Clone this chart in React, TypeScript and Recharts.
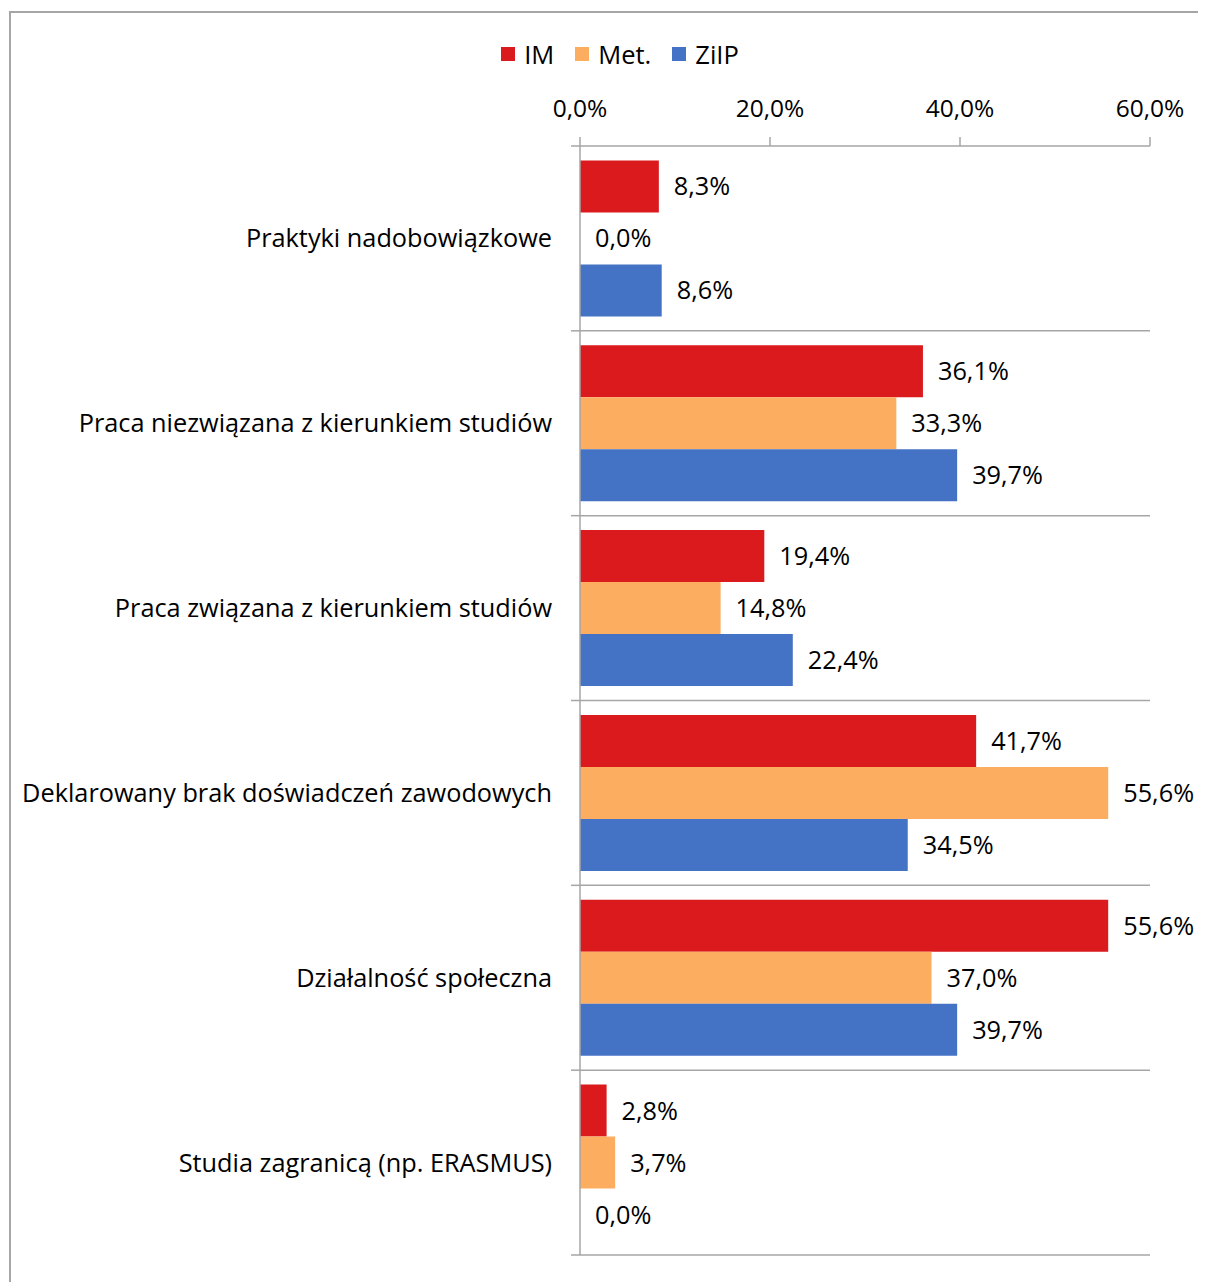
import React from 'react';
import { BarChart, Bar, XAxis, YAxis, CartesianGrid, Legend, LabelList } from 'recharts';

const categories = [
  'Praktyki nadobowiązkowe',
  'Praca niezwiązana z kierunkiem studiów',
  'Praca związana z kierunkiem studiów',
  'Deklarowany brak doświadczeń zawodowych',
  'Działalność społeczna',
  'Studia zagranicą (np. ERASMUS)',
];
const imValues = [8.3, 36.1, 19.4, 41.7, 55.6, 2.8];
const metValues = [0.0, 33.3, 14.8, 55.6, 37.0, 3.7];
const zilpValues = [8.6, 39.7, 22.4, 34.5, 39.7, 0.0];
const xTicks = [0, 20, 40, 60];

const series = [
  { key: 'IM', name: 'IM', color: '#DA1A1D' },
  { key: 'Met', name: 'Met.', color: '#FDAD60' },
  { key: 'ZiIP', name: 'ZiIP', color: '#4472C4' },
];

const data = categories.map((name, i) => ({
  name,
  IM: imValues[i],
  Met: metValues[i],
  ZiIP: zilpValues[i],
}));

const W = 1198;
const H = 1274;
const margin = { top: 98, right: 56, bottom: 27, left: 0 };
const X_AXIS_H = 40;
const Y_AXIS_W = 572;
const PLOT_H = H - margin.top - X_AXIS_H - margin.bottom;
const BAND = PLOT_H / categories.length;
const FONT = '"Open Sans", "Noto Sans", sans-serif';
const GRAY = '#A6A6A6';

const pct = (v: any) => Number(v).toFixed(1).replace('.', ',') + '%';

const CategoryTick = (props: any) => {
  const { x, y, payload, index } = props;
  const axisX = x + 28;
  return (
    <g>
      <text x={x} y={y} dy={9} textAnchor="end" fontSize={25.3} fill="#000" fontFamily={FONT}>
        {payload.value}
      </text>
      {index === 0 && (
        <line x1={axisX - 9} x2={axisX} y1={y - BAND / 2} y2={y - BAND / 2} stroke={GRAY} strokeWidth={1.5} />
      )}
      <line x1={axisX - 9} x2={axisX} y1={y + BAND / 2} y2={y + BAND / 2} stroke={GRAY} strokeWidth={1.5} />
    </g>
  );
};

const LegendContent = () => (
  <div style={{ display: 'flex', justifyContent: 'center', alignItems: 'center', height: 30, fontFamily: FONT, fontSize: 25.5, color: '#000' }}>
    {series.map((s, i) => (
      <div key={s.key} style={{ display: 'flex', alignItems: 'center', marginRight: i < series.length - 1 ? 21 : 0 }}>
        <span style={{ display: 'inline-block', width: 14, height: 14, background: s.color, marginRight: 9 }} />
        <span>{s.name}</span>
      </div>
    ))}
  </div>
);

export default function App() {
  return (
    <div style={{ position: 'relative', width: W, height: H, overflow: 'hidden', background: '#fff' }}>
      <div
        style={{
          position: 'absolute',
          left: 1,
          top: 3,
          width: 1400,
          height: 1400,
          borderLeft: `2px solid ${GRAY}`,
          borderTop: `2px solid ${GRAY}`,
        }}
      />
      <BarChart
        width={W}
        height={H}
        data={data}
        layout="vertical"
        margin={margin}
        barCategoryGap="7.8%"
        barGap={0}
      >
        <CartesianGrid
          horizontal={true}
          vertical={false}
          stroke={GRAY}
          strokeWidth={1.5}
          horizontalCoordinatesGenerator={({ offset }: any) =>
            categories.map((_, i) => offset.top + ((i + 1) * offset.height) / categories.length)
          }
        />
        <XAxis
          type="number"
          orientation="top"
          domain={[0, 60]}
          ticks={xTicks}
          height={X_AXIS_H}
          tickFormatter={pct}
          axisLine={{ stroke: GRAY, strokeWidth: 1.5 }}
          tickLine={{ stroke: GRAY, strokeWidth: 1.5 }}
          tickSize={9}
          tickMargin={20}
          tick={{ fill: '#000', fontSize: 24.5, fontFamily: FONT }}
        />
        <YAxis
          type="category"
          dataKey="name"
          width={Y_AXIS_W}
          axisLine={{ stroke: GRAY, strokeWidth: 1.5 }}
          tickLine={false}
          tickSize={0}
          tickMargin={28}
          tick={<CategoryTick />}
          interval={0}
        />
        <Legend
          verticalAlign="middle"
          align="center"
          content={<LegendContent />}
          wrapperStyle={{ top: 31, left: 0, width: 1224, height: 30 }}
        />
        {series.map((s) => (
          <Bar
            key={s.key}
            dataKey={s.key}
            name={s.name}
            fill={s.color}
            minPointSize={0.01}
            isAnimationActive={false}
          >
            <LabelList
              dataKey={s.key}
              position="right"
              offset={15}
              formatter={pct}
              fill="#000"
              fontSize={25.3}
              fontFamily={FONT}
            />
          </Bar>
        ))}
      </BarChart>
    </div>
  );
}
